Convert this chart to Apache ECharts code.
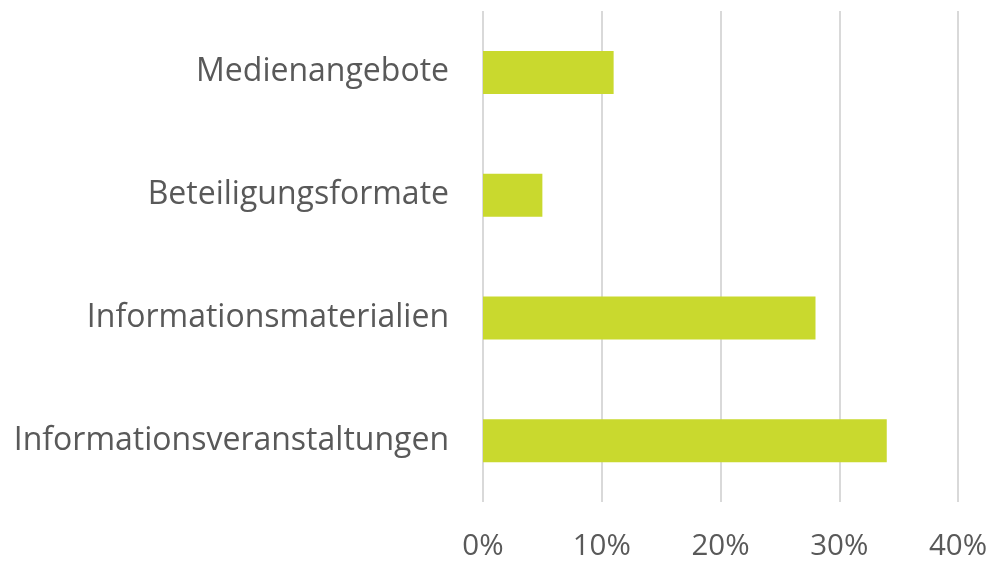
<!DOCTYPE html>
<html>
<head>
<meta charset="utf-8">
<script src="https://cdn.jsdelivr.net/npm/echarts@6/dist/echarts.min.js"></script>
<style>
html, body { margin: 0; padding: 0; background: #fff; }
#chart { width: 992px; height: 562px; }
</style>
</head>
<body>
<div id="chart"></div>
<script>
// Kategorien von oben nach unten
var categories = ['Medienangebote', 'Beteiligungsformate', 'Informationsmaterialien', 'Informationsveranstaltungen'];
var values = [11, 5, 28, 34];
var xTicks = [0, 10, 20, 30, 40];

var chart = echarts.init(document.getElementById('chart'));

var options = {
	animation: false,
	grid: { left: 483, right: 34, top: 11, bottom: 60, containLabel: false },
	xAxis: {
		type: 'value',
		min: xTicks[0],
		max: xTicks[xTicks.length - 1],
		interval: 10,
		axisLine: { show: false },
		axisTick: { show: false },
		splitLine: { show: true, lineStyle: { color: '#d9d9d9', width: 2 } },
		axisLabel: {
			formatter: '{value}%',
			color: '#595959',
			fontFamily: 'Open Sans',
			fontSize: 29.5,
			margin: 30
		}
	},
	yAxis: {
		type: 'category',
		inverse: true,
		data: categories,
		axisLine: { show: false },
		axisTick: { show: false },
		axisLabel: {
			color: '#595959',
			fontFamily: 'Open Sans',
			fontSize: 32,
			margin: 34
		}
	},
	series: [{
		type: 'bar',
		data: values,
		barWidth: 43,
		itemStyle: { color: '#c9d92e' }
	}]
};

chart.setOption(options);
</script>
</body>
</html>
